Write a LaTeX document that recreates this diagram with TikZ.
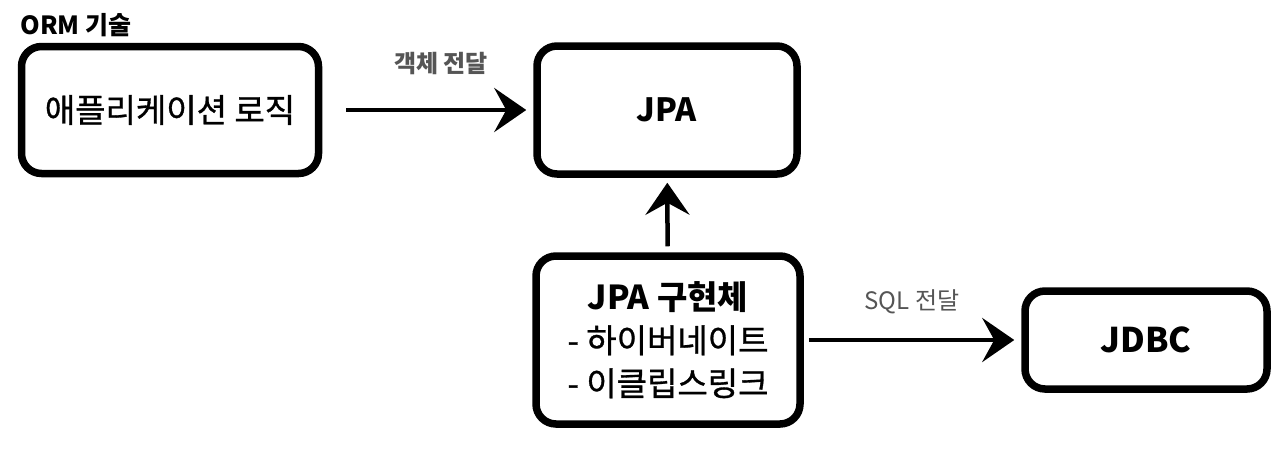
\documentclass[tikz,border=0pt]{standalone}
\usepackage{fontspec}
\setmainfont{Noto Sans CJK KR}
\newfontfamily\medfont{Noto Sans CJK KR}[FakeBold=0.9]
\usepackage{tikz}
\usetikzlibrary{arrows.meta,positioning}
\tikzstyle{box}=[draw=black, line width=7.5pt, rounded corners=20pt, align=center, inner sep=0pt]
\tikzstyle{l1}=[line width=4.5pt, -{Stealth[length=32pt, width=44pt, inset=12pt]}]
\tikzstyle{lbl}=[text=mgray, font=\fontsize{24}{28}\selectfont]
\usepackage{xcolor}
\definecolor{mgray}{HTML}{555555}

\begin{document}
\begin{tikzpicture}[x=1pt, y=-1pt]
    \useasboundingbox (0,0) rectangle (1280,448);
    \node[anchor=west, font=\fontsize{25}{28}\selectfont\bfseries] at (17,25) (title) {ORM 기술};

    \node[box, minimum width=297pt, minimum height=127pt, font=\fontsize{33}{43}\medfont] at (170,110) (app) {애플리케이션 로직};
    \node[box, minimum width=260pt, minimum height=128pt, font=\fontsize{32}{43}\selectfont\bfseries] at (667,110) (jpa) {JPA};
    \node[box, minimum width=264pt, minimum height=168pt, font=\fontsize{33}{43}\medfont] at (668,340) (impl) {{\rmfamily\bfseries JPA 구현체}\\- 하이버네이트\\- 이클립스링크};
    \node[box, minimum width=242pt, minimum height=98pt, font=\fontsize{34}{43}\selectfont\bfseries] at (1146,340) (jdbc) {JDBC};

    \draw[l1, shorten <=24pt, shorten >=7pt] (app) -- (jpa);
    \draw[l1, shorten <=6pt, shorten >=5pt] (impl) -- (jpa);
    \draw[l1, shorten <=5pt, shorten >=7pt] (impl) -- (jdbc);

    \node[lbl, font=\fontsize{24}{28}\selectfont\bfseries] at (441,64) (l_obj) {객체 전달};
    \node[lbl] at (912,302) (l_sql) {SQL 전달};
\end{tikzpicture}
\end{document}
